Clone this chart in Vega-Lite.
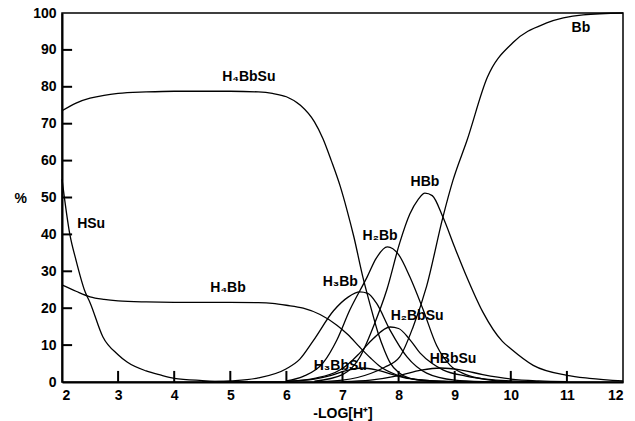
{
  "$schema": "https://vega.github.io/schema/vega-lite/v6.json",
  "width": 561,
  "height": 369,
  "autosize": {"type": "none"},
  "padding": {"left": 62, "top": 13, "right": 12, "bottom": 39},
  "background": "white",
  "config": {
    "font": "Liberation Sans",
    "view": {"stroke": "black", "strokeWidth": 1.5},
    "axis": {
      "domainColor": "black",
      "domainWidth": 2,
      "ticks": false,
      "labelFont": "Liberation Sans",
      "labelFontSize": 14,
      "labelFontWeight": "bold",
      "labelColor": "black",
      "titleFont": "Liberation Sans",
      "titleFontSize": 14,
      "titleFontWeight": "bold",
      "titleColor": "black",
      "grid": false
    }
  },
  "datasets": {
    "curves": [
      {"species": "HSu", "pH": 2.0, "pct": 55},
      {"species": "HSu", "pH": 2.14, "pct": 40},
      {"species": "HSu", "pH": 2.25, "pct": 33},
      {"species": "HSu", "pH": 2.41, "pct": 24.5},
      {"species": "HSu", "pH": 2.5, "pct": 21.5},
      {"species": "HSu", "pH": 2.73, "pct": 12.2},
      {"species": "HSu", "pH": 3.0, "pct": 7.4},
      {"species": "HSu", "pH": 3.16, "pct": 5.4},
      {"species": "HSu", "pH": 3.5, "pct": 3},
      {"species": "HSu", "pH": 3.75, "pct": 1.9},
      {"species": "HSu", "pH": 4.0, "pct": 1.0},
      {"species": "HSu", "pH": 4.5, "pct": 0.4},
      {"species": "HSu", "pH": 5.0, "pct": 0.1},
      {"species": "HSu", "pH": 6.0, "pct": 0},

      {"species": "H4Bb", "pH": 2.0, "pct": 26.3},
      {"species": "H4Bb", "pH": 2.25, "pct": 24.6},
      {"species": "H4Bb", "pH": 2.5, "pct": 23.1},
      {"species": "H4Bb", "pH": 2.75, "pct": 22.4},
      {"species": "H4Bb", "pH": 3.0, "pct": 22.0},
      {"species": "H4Bb", "pH": 3.5, "pct": 21.7},
      {"species": "H4Bb", "pH": 4.0, "pct": 21.6},
      {"species": "H4Bb", "pH": 5.0, "pct": 21.6},
      {"species": "H4Bb", "pH": 5.5, "pct": 21.5},
      {"species": "H4Bb", "pH": 5.75, "pct": 21.3},
      {"species": "H4Bb", "pH": 6.0, "pct": 20.8},
      {"species": "H4Bb", "pH": 6.3, "pct": 20.0},
      {"species": "H4Bb", "pH": 6.6, "pct": 18.3},
      {"species": "H4Bb", "pH": 6.9, "pct": 15.4},
      {"species": "H4Bb", "pH": 7.1, "pct": 12.8},
      {"species": "H4Bb", "pH": 7.31, "pct": 9.4},
      {"species": "H4Bb", "pH": 7.5, "pct": 6.5},
      {"species": "H4Bb", "pH": 7.67, "pct": 4.2},
      {"species": "H4Bb", "pH": 7.97, "pct": 1.9},
      {"species": "H4Bb", "pH": 8.3, "pct": 0.7},
      {"species": "H4Bb", "pH": 8.8, "pct": 0.2},
      {"species": "H4Bb", "pH": 9.5, "pct": 0},

      {"species": "H4BbSu", "pH": 2.0, "pct": 73.5},
      {"species": "H4BbSu", "pH": 2.25, "pct": 75.6},
      {"species": "H4BbSu", "pH": 2.5, "pct": 76.9},
      {"species": "H4BbSu", "pH": 2.75, "pct": 77.7},
      {"species": "H4BbSu", "pH": 3.0, "pct": 78.2},
      {"species": "H4BbSu", "pH": 3.5, "pct": 78.6},
      {"species": "H4BbSu", "pH": 4.0, "pct": 78.8},
      {"species": "H4BbSu", "pH": 5.0, "pct": 78.8},
      {"species": "H4BbSu", "pH": 5.5, "pct": 78.6},
      {"species": "H4BbSu", "pH": 5.75, "pct": 78.2},
      {"species": "H4BbSu", "pH": 6.0, "pct": 77.3},
      {"species": "H4BbSu", "pH": 6.25, "pct": 75},
      {"species": "H4BbSu", "pH": 6.5, "pct": 70.5},
      {"species": "H4BbSu", "pH": 6.65, "pct": 66},
      {"species": "H4BbSu", "pH": 6.8, "pct": 60},
      {"species": "H4BbSu", "pH": 6.96, "pct": 53},
      {"species": "H4BbSu", "pH": 7.08, "pct": 46.6},
      {"species": "H4BbSu", "pH": 7.2, "pct": 39.5},
      {"species": "H4BbSu", "pH": 7.37, "pct": 28},
      {"species": "H4BbSu", "pH": 7.5, "pct": 20.5},
      {"species": "H4BbSu", "pH": 7.63, "pct": 13.5},
      {"species": "H4BbSu", "pH": 7.75, "pct": 8.5},
      {"species": "H4BbSu", "pH": 7.85, "pct": 5.2},
      {"species": "H4BbSu", "pH": 8.0, "pct": 2.6},
      {"species": "H4BbSu", "pH": 8.2, "pct": 1},
      {"species": "H4BbSu", "pH": 8.5, "pct": 0.3},
      {"species": "H4BbSu", "pH": 9.0, "pct": 0},

      {"species": "H3Bb", "pH": 4.5, "pct": 0},
      {"species": "H3Bb", "pH": 5.0, "pct": 0.3},
      {"species": "H3Bb", "pH": 5.5, "pct": 1.1},
      {"species": "H3Bb", "pH": 6.0, "pct": 3.6},
      {"species": "H3Bb", "pH": 6.24, "pct": 6.2},
      {"species": "H3Bb", "pH": 6.48, "pct": 11.2},
      {"species": "H3Bb", "pH": 6.84, "pct": 19.3},
      {"species": "H3Bb", "pH": 7.1, "pct": 23},
      {"species": "H3Bb", "pH": 7.31, "pct": 24.4},
      {"species": "H3Bb", "pH": 7.45, "pct": 24},
      {"species": "H3Bb", "pH": 7.6, "pct": 21.5},
      {"species": "H3Bb", "pH": 7.85, "pct": 14},
      {"species": "H3Bb", "pH": 8.15, "pct": 6.8},
      {"species": "H3Bb", "pH": 8.5, "pct": 2.4},
      {"species": "H3Bb", "pH": 9.0, "pct": 0.5},
      {"species": "H3Bb", "pH": 9.5, "pct": 0.1},
      {"species": "H3Bb", "pH": 10.0, "pct": 0},

      {"species": "H2Bb", "pH": 6.0, "pct": 0.3},
      {"species": "H2Bb", "pH": 6.3, "pct": 1.5},
      {"species": "H2Bb", "pH": 6.65, "pct": 5.1},
      {"species": "H2Bb", "pH": 6.9, "pct": 11.4},
      {"species": "H2Bb", "pH": 7.13, "pct": 19.5},
      {"species": "H2Bb", "pH": 7.44, "pct": 28.5},
      {"species": "H2Bb", "pH": 7.6, "pct": 33.5},
      {"species": "H2Bb", "pH": 7.8, "pct": 36.6},
      {"species": "H2Bb", "pH": 8.0, "pct": 34.5},
      {"species": "H2Bb", "pH": 8.2, "pct": 28.5},
      {"species": "H2Bb", "pH": 8.44, "pct": 19.5},
      {"species": "H2Bb", "pH": 8.68, "pct": 9.8},
      {"species": "H2Bb", "pH": 8.92, "pct": 4.5},
      {"species": "H2Bb", "pH": 9.2, "pct": 2},
      {"species": "H2Bb", "pH": 9.6, "pct": 0.6},
      {"species": "H2Bb", "pH": 10.0, "pct": 0.1},

      {"species": "HBb", "pH": 6.5, "pct": 0.2},
      {"species": "HBb", "pH": 7.0, "pct": 2},
      {"species": "HBb", "pH": 7.3, "pct": 6.5},
      {"species": "HBb", "pH": 7.55, "pct": 15},
      {"species": "HBb", "pH": 7.79, "pct": 25},
      {"species": "HBb", "pH": 8.02, "pct": 37.7},
      {"species": "HBb", "pH": 8.2, "pct": 45.5},
      {"species": "HBb", "pH": 8.35, "pct": 49.5},
      {"species": "HBb", "pH": 8.47, "pct": 51.2},
      {"species": "HBb", "pH": 8.6, "pct": 50.5},
      {"species": "HBb", "pH": 8.79, "pct": 44.7},
      {"species": "HBb", "pH": 9.0, "pct": 36.5},
      {"species": "HBb", "pH": 9.2, "pct": 29},
      {"species": "HBb", "pH": 9.5, "pct": 19},
      {"species": "HBb", "pH": 9.85, "pct": 11},
      {"species": "HBb", "pH": 10.0, "pct": 9},
      {"species": "HBb", "pH": 10.4, "pct": 4.5},
      {"species": "HBb", "pH": 11.0, "pct": 1.8},
      {"species": "HBb", "pH": 11.4, "pct": 1},
      {"species": "HBb", "pH": 12.0, "pct": 0.3},

      {"species": "Bb", "pH": 6.5, "pct": 0},
      {"species": "Bb", "pH": 7.0, "pct": 0.5},
      {"species": "Bb", "pH": 7.5, "pct": 2.3},
      {"species": "Bb", "pH": 7.75, "pct": 4},
      {"species": "Bb", "pH": 8.02, "pct": 6.8},
      {"species": "Bb", "pH": 8.26, "pct": 15},
      {"species": "Bb", "pH": 8.5, "pct": 26},
      {"species": "Bb", "pH": 8.79, "pct": 44.7},
      {"species": "Bb", "pH": 8.97, "pct": 54.7},
      {"species": "Bb", "pH": 9.22, "pct": 65.5},
      {"species": "Bb", "pH": 9.58, "pct": 82.5},
      {"species": "Bb", "pH": 10.04, "pct": 92},
      {"species": "Bb", "pH": 10.64, "pct": 97.3},
      {"species": "Bb", "pH": 11.29, "pct": 99.5},
      {"species": "Bb", "pH": 12.0, "pct": 100},

      {"species": "H2BbSu", "pH": 6.0, "pct": 0.2},
      {"species": "H2BbSu", "pH": 6.5, "pct": 1},
      {"species": "H2BbSu", "pH": 6.96, "pct": 3.3},
      {"species": "H2BbSu", "pH": 7.15, "pct": 5.5},
      {"species": "H2BbSu", "pH": 7.31, "pct": 7.9},
      {"species": "H2BbSu", "pH": 7.55, "pct": 11.8},
      {"species": "H2BbSu", "pH": 7.85, "pct": 14.9},
      {"species": "H2BbSu", "pH": 8.0, "pct": 14.5},
      {"species": "H2BbSu", "pH": 8.2, "pct": 11.5},
      {"species": "H2BbSu", "pH": 8.38, "pct": 7.9},
      {"species": "H2BbSu", "pH": 8.6, "pct": 5},
      {"species": "H2BbSu", "pH": 8.79, "pct": 3.3},
      {"species": "H2BbSu", "pH": 9.2, "pct": 1.6},
      {"species": "H2BbSu", "pH": 9.6, "pct": 0.7},
      {"species": "H2BbSu", "pH": 10.0, "pct": 0.3},
      {"species": "H2BbSu", "pH": 10.5, "pct": 0},

      {"species": "H3BbSu", "pH": 6.0, "pct": 0.2},
      {"species": "H3BbSu", "pH": 6.5, "pct": 0.8},
      {"species": "H3BbSu", "pH": 6.8, "pct": 1.8},
      {"species": "H3BbSu", "pH": 7.1, "pct": 3.2},
      {"species": "H3BbSu", "pH": 7.35, "pct": 3.8},
      {"species": "H3BbSu", "pH": 7.6, "pct": 3.3},
      {"species": "H3BbSu", "pH": 7.9, "pct": 2},
      {"species": "H3BbSu", "pH": 8.2, "pct": 0.9},
      {"species": "H3BbSu", "pH": 8.6, "pct": 0.3},
      {"species": "H3BbSu", "pH": 9.2, "pct": 0},

      {"species": "HBbSu", "pH": 7.0, "pct": 0.1},
      {"species": "HBbSu", "pH": 7.5, "pct": 0.5},
      {"species": "HBbSu", "pH": 8.0, "pct": 1.7},
      {"species": "HBbSu", "pH": 8.4, "pct": 3.2},
      {"species": "HBbSu", "pH": 8.75, "pct": 3.8},
      {"species": "HBbSu", "pH": 9.1, "pct": 3.3},
      {"species": "HBbSu", "pH": 9.5, "pct": 2},
      {"species": "HBbSu", "pH": 10.0, "pct": 0.8},
      {"species": "HBbSu", "pH": 10.5, "pct": 0.3},
      {"species": "HBbSu", "pH": 11.0, "pct": 0.1}
    ],
    "labels": [
      {"label": "H₄BbSu", "pH": 5.33, "pct": 82.7},
      {"label": "Bb", "pH": 11.25, "pct": 96},
      {"label": "HBb", "pH": 8.47, "pct": 54.2},
      {"label": "H₂Bb", "pH": 7.67, "pct": 39.6},
      {"label": "H₃Bb", "pH": 6.96, "pct": 27},
      {"label": "H₂BbSu", "pH": 8.33, "pct": 17.9},
      {"label": "HBbSu", "pH": 8.97, "pct": 6.2},
      {"label": "H₃BbSu", "pH": 6.96, "pct": 4.3},
      {"label": "H₄Bb", "pH": 4.96, "pct": 25.5},
      {"label": "HSu", "pH": 2.52, "pct": 42.8}
    ]
  },
  "encoding": {
    "x": {
      "field": "pH", "type": "quantitative",
      "scale": {"domain": [2, 12], "nice": false},
      "axis": {"values": [2,3,4,5,6,7,8,9,10,11,12], "format": "d", "title": "-LOG[H⁺]", "labelPadding": 6, "titlePadding": 4}
    },
    "y": {
      "field": "pct", "type": "quantitative",
      "scale": {"domain": [0, 100], "nice": false},
      "axis": {"values": [0,10,20,30,40,50,60,70,80,90,100], "format": "d", "title": "%", "titleAngle": 0, "titleX": -48, "titleY": 185, "titleAlign": "left", "titleBaseline": "middle", "labelPadding": 6}
    }
  },
  "layer": [
    {
      "data": {"name": "curves"},
      "mark": {"type": "line", "color": "black", "strokeWidth": 1.3, "interpolate": "monotone"},
      "encoding": {
        "detail": {"field": "species"}
      }
    },
    {
      "data": {"name": "labels"},
      "mark": {"type": "text", "font": "Liberation Sans", "fontWeight": "bold", "fontSize": 14, "color": "black"},
      "encoding": {
        "text": {"field": "label"}
      }
    },
    {
      "data": {"values": [
        {"pH": 3, "pct": 0, "pHend": 3, "pctend": 3}, {"pH": 4, "pct": 0, "pHend": 4, "pctend": 3},
        {"pH": 5, "pct": 0, "pHend": 5, "pctend": 3}, {"pH": 6, "pct": 0, "pHend": 6, "pctend": 3},
        {"pH": 7, "pct": 0, "pHend": 7, "pctend": 3}, {"pH": 8, "pct": 0, "pHend": 8, "pctend": 3},
        {"pH": 9, "pct": 0, "pHend": 9, "pctend": 3}, {"pH": 10, "pct": 0, "pHend": 10, "pctend": 3},
        {"pH": 11, "pct": 0, "pHend": 11, "pctend": 3},
        {"pH": 2, "pct": 10, "pHend": 2.18, "pctend": 10}, {"pH": 2, "pct": 20, "pHend": 2.18, "pctend": 20},
        {"pH": 2, "pct": 30, "pHend": 2.18, "pctend": 30}, {"pH": 2, "pct": 40, "pHend": 2.18, "pctend": 40},
        {"pH": 2, "pct": 50, "pHend": 2.18, "pctend": 50}, {"pH": 2, "pct": 60, "pHend": 2.18, "pctend": 60},
        {"pH": 2, "pct": 70, "pHend": 2.18, "pctend": 70}, {"pH": 2, "pct": 80, "pHend": 2.18, "pctend": 80},
        {"pH": 2, "pct": 90, "pHend": 2.18, "pctend": 90}
      ]},
      "mark": {"type": "rule", "color": "black", "strokeWidth": 2},
      "encoding": {
        "x2": {"field": "pHend"},
        "y2": {"field": "pctend"}
      }
    }
  ]
}
